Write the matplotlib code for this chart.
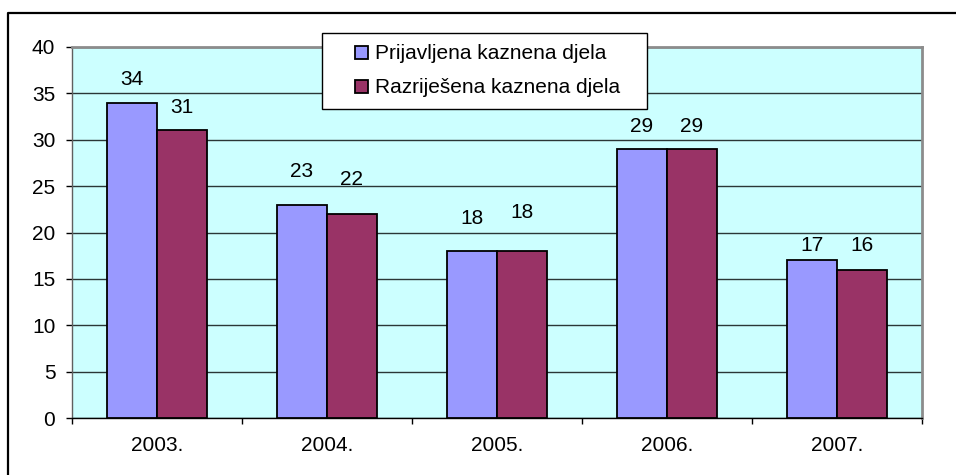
import matplotlib
matplotlib.use("Agg")
import matplotlib.pyplot as plt
import numpy as np
from matplotlib.patches import Rectangle
from matplotlib.legend_handler import HandlerPatch
from matplotlib.lines import Line2D

plt.rcParams['font.family'] = ['Liberation Sans', 'DejaVu Sans']

categories = ['2003.', '2004.', '2005.', '2006.', '2007.']
series_names = ['Prijavljena kaznena djela', 'Razriješena kaznena djela']
reported = [34, 23, 18, 29, 17]
solved = [31, 22, 18, 29, 16]
y_ticks = [0, 5, 10, 15, 20, 25, 30, 35, 40]

# styling
colors = ['#9999FF', '#993366']
label_offsets_px = [[23, 33, 33, 23, 15], [23, 34, 39, 23, 24]]
FS = 15

fig = plt.figure(figsize=(9.56, 4.75), dpi=100)
fig.patch.set_facecolor('white')
ax = fig.add_axes([72/956, 1 - 418/475, 850/956, 371/475])
ax.set_facecolor('#CCFFFF')

x = np.arange(len(categories))
bw = 0.294
series = [reported, solved]
for i, (vals, col) in enumerate(zip(series, colors)):
    pos = x - bw/2 + i*bw
    bars = ax.bar(pos, vals, width=bw, color=col, edgecolor='black', linewidth=1.3,
                  label=series_names[i], zorder=3)
    for b, v, off in zip(bars, vals, label_offsets_px[i]):
        ax.annotate(str(v), (b.get_x() + b.get_width()/2, v), xytext=(0, off),
                    textcoords='offset pixels', ha='center', va='center',
                    fontsize=FS, color='black', zorder=4)

ax.set_xlim(-0.5, len(categories) - 0.5)
ax.set_ylim(0, 40)
ax.set_yticks(y_ticks)
ax.set_yticklabels([str(t) for t in y_ticks], fontsize=FS)
ax.yaxis.grid(True, color='#2a3636', linewidth=1.0, zorder=1)
ax.set_axisbelow(True)
ax.tick_params(axis='y', direction='out', length=4.5, width=1, color='black', pad=7.5)

ax.set_xticks(x)
ax.set_xticklabels(categories, fontsize=FS)
ax.set_xticks(np.arange(-0.5, len(categories)), minor=True)
ax.tick_params(axis='x', which='major', length=0, pad=13)
ax.tick_params(axis='x', which='minor', direction='out', length=4, width=1, color='black')

for s in ['top', 'right']:
    ax.spines[s].set_color('#8c8c8c')
    ax.spines[s].set_linewidth(2)
ax.spines['left'].set_color('#606060')
ax.spines['left'].set_linewidth(1)
ax.spines['bottom'].set_color('black')
ax.spines['bottom'].set_linewidth(1)


def square_patch(legend, orig_handle, xdescent, ydescent, width, height, fontsize):
    s = 13.0 * 0.72
    return Rectangle((width - s - xdescent, -ydescent + (height - s)/2), s, s)

handles = [Rectangle((0, 0), 1, 1, facecolor=c, edgecolor='black', linewidth=1.3) for c in colors]
leg = ax.legend(handles, series_names, loc='upper left',
                bbox_to_anchor=(250/850, (418-107)/371, 325/850, 74/371), mode='expand',
                borderaxespad=0, fontsize=FS, frameon=True, fancybox=False, shadow=False,
                handlelength=1.65, handleheight=0.7, handletextpad=0.33,
                labelspacing=0.72, borderpad=0.55,
                handler_map={Rectangle: HandlerPatch(patch_func=square_patch)})
leg.get_frame().set_edgecolor('black')
leg.get_frame().set_linewidth(1.0)
leg.get_frame().set_facecolor('white')
leg.get_frame().set_alpha(1)
leg.set_zorder(10)

# outer chart border (only top and left visible in the crop)
fig.add_artist(Line2D([8/956, 8/956, 1.0], [0.0, 1 - 13/475, 1 - 13/475],
                      transform=fig.transFigure, color='black', linewidth=1.6))

fig.savefig('out.png', dpi=100)
